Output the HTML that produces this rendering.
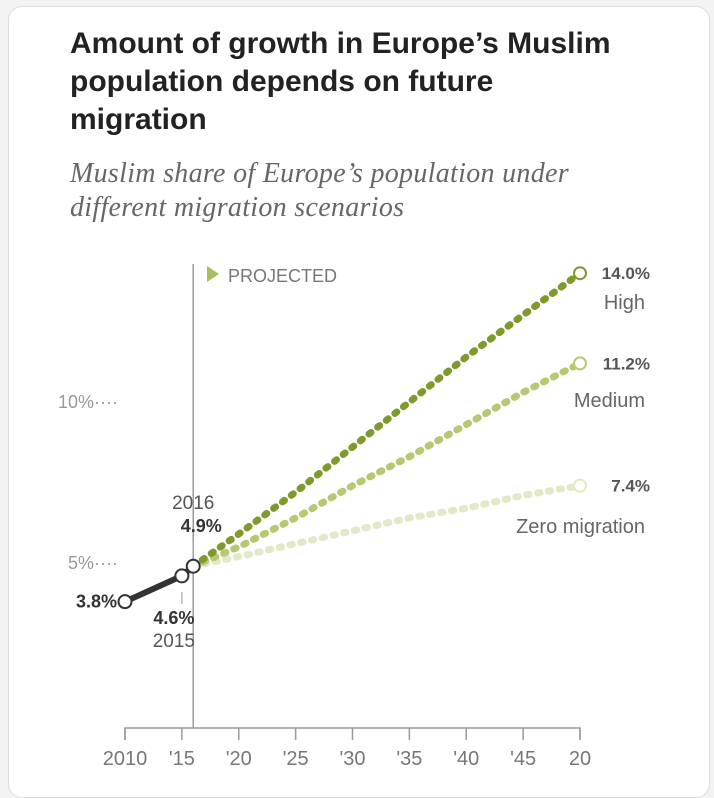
<!DOCTYPE html>
<html><head><meta charset="utf-8"><style>
body{margin:0;background:#f3f3f3;width:714px;height:782px;overflow:hidden;font-family:"Liberation Sans",sans-serif}
#card{position:absolute;left:8px;top:6px;width:700px;height:790px;background:#fff;border:1px solid #ddd;border-radius:14px}
h1{position:absolute;left:70px;top:25px;margin:0;font-size:30px;line-height:38px;font-weight:bold;color:#222;width:560px}
.sub{position:absolute;left:70px;top:157px;font-family:"Liberation Serif",serif;font-style:italic;font-size:28px;letter-spacing:0.3px;line-height:34px;color:#666;width:560px}
svg{position:absolute;left:0;top:0}
</style></head><body>
<div id="card"></div>
<h1>Amount of growth in Europe’s Muslim population depends on future migration</h1>
<div class="sub">Muslim share of Europe’s population under different migration scenarios</div>
<svg id="chart" width="714" height="782"></svg>
<script>
const histYears=[2010,2015,2016];
const histVals=[3.8,4.6,4.9];
const projYears=[2016,2020,2025,2030,2035,2040,2045,2050];
const highVals=[4.9,5.9,7.2,8.6,10.0,11.4,12.7,14.0];
const medVals=[4.9,5.5,6.4,7.4,8.3,9.3,10.3,11.2];
const zeroVals=[4.9,5.2,5.6,6.0,6.4,6.7,7.1,7.4];
const tickYears=[2010,2015,2020,2025,2030,2035,2040,2045,2050];
const tickLabels=["2010","'15","'20","'25","'30","'35","'40","'45","20"];
const yTicks=[5,10];
const yLabels=["5%","10%"];
const ns="http://www.w3.org/2000/svg";
const svg=document.getElementById('chart');
const x=y=>125+(y-2010)*11.375;
const yv=v=>724-v*32.2;
function mk(t,a,txt){const e=document.createElementNS(ns,t);for(const k in a)e.setAttribute(k,a[k]);if(txt!==undefined)e.textContent=txt;svg.appendChild(e);return e;}
let ax=mk('path',{d:`M${x(2010)},740V728H${x(2050)}V740`,fill:'none',stroke:'#999','stroke-width':1.5});


tickYears.forEach((t,i)=>{
 let l=mk('line',{x1:x(t),x2:x(t),y1:728,y2:740,stroke:'#999','stroke-width':1.5});
 
 
 let tx=mk('text',{x:x(t),y:765,'text-anchor':'middle','font-size':20,fill:'#777'},tickLabels[i]);
 
 
});
yTicks.forEach((t,i)=>{
 let tx=mk('text',{x:118,y:yv(t)+6,'text-anchor':'end','font-size':18,fill:'#999'},yLabels[i]+'····');
 
 
});
let pl=mk('line',{x1:x(2016),x2:x(2016),y1:264,y2:728,stroke:'#999','stroke-width':1.5});


let pa=mk('path',{d:'M207,266L219,274L207,282Z',fill:'#a8bd5c'});


let pt=mk('text',{x:228,y:282,'font-size':18,fill:'#777'},'PROJECTED');


let tk=mk('line',{x1:x(2015),x2:x(2015),y1:592,y2:604,stroke:'#aaa','stroke-width':1.2});


let tk2=mk('line',{x1:x(2016),x2:x(2016),y1:543,y2:555,stroke:'#aaa','stroke-width':1.2});


[[zeroVals,'#e1e9c8','zero-migration-line'],[medVals,'#b5c872','medium-line'],[highVals,'#7f9a2c','high-line']].forEach(([vals,c,n])=>{
 let d=vals.map((v,i)=>(i?'L':'M')+x(projYears[i])+','+yv(v)).join('');
 let p=mk('path',{d,fill:'none',stroke:c,'stroke-width':7,'stroke-linecap':'round','stroke-dasharray':'2.5 8.5'});
 
 
 let cc=mk('circle',{cx:x(2050),cy:yv(vals[vals.length-1]),r:6,fill:'#fff',stroke:c,'stroke-width':2});
 
 
});
let hd=histVals.map((v,i)=>(i?'L':'M')+x(histYears[i])+','+yv(v)).join('');
let hp=mk('path',{d:hd,fill:'none',stroke:'#333','stroke-width':6});


histVals.forEach((v,i)=>{
 let c=mk('circle',{cx:x(histYears[i]),cy:yv(v),r:6.5,fill:'#fff',stroke:'#333','stroke-width':2});
 
 
});
function lab(xx,yy,t,o,n){let e=mk('text',Object.assign({x:xx,y:yy,'font-size':18},o),t);}
lab(117,yv(3.8)+6,'3.8%',{'text-anchor':'end','font-weight':'bold',fill:'#333'},'label-2010');
lab(x(2015)-8,624,'4.6%',{'text-anchor':'middle','font-weight':'bold',fill:'#333'},'label-2015-value');
lab(x(2015)-8,647,'2015',{'text-anchor':'middle',fill:'#555','font-size':19},'label-2015-year');
lab(x(2016),509,'2016',{'text-anchor':'middle',fill:'#555','font-size':19},'label-2016-year');
lab(x(2016)+8,532,'4.9%',{'text-anchor':'middle','font-weight':'bold',fill:'#333'},'label-2016-value');
lab(650,yv(14)+6,'14.0%',{'text-anchor':'end','font-weight':'bold',fill:'#555',"font-size":17},'label-high-value');
lab(645,309,'High',{'text-anchor':'end',fill:'#666',"font-size":20},'label-high');
lab(650,yv(11.2)+6,'11.2%',{'text-anchor':'end','font-weight':'bold',fill:'#555',"font-size":17},'label-medium-value');
lab(645,407,'Medium',{'text-anchor':'end',fill:'#666',"font-size":20},'label-medium');
lab(650,yv(7.4)+6,'7.4%',{'text-anchor':'end','font-weight':'bold',fill:'#555',"font-size":17},'label-zero-value');
lab(645,533,'Zero migration',{'text-anchor':'end',fill:'#666',"font-size":20},'label-zero');
</script>
</body></html>
